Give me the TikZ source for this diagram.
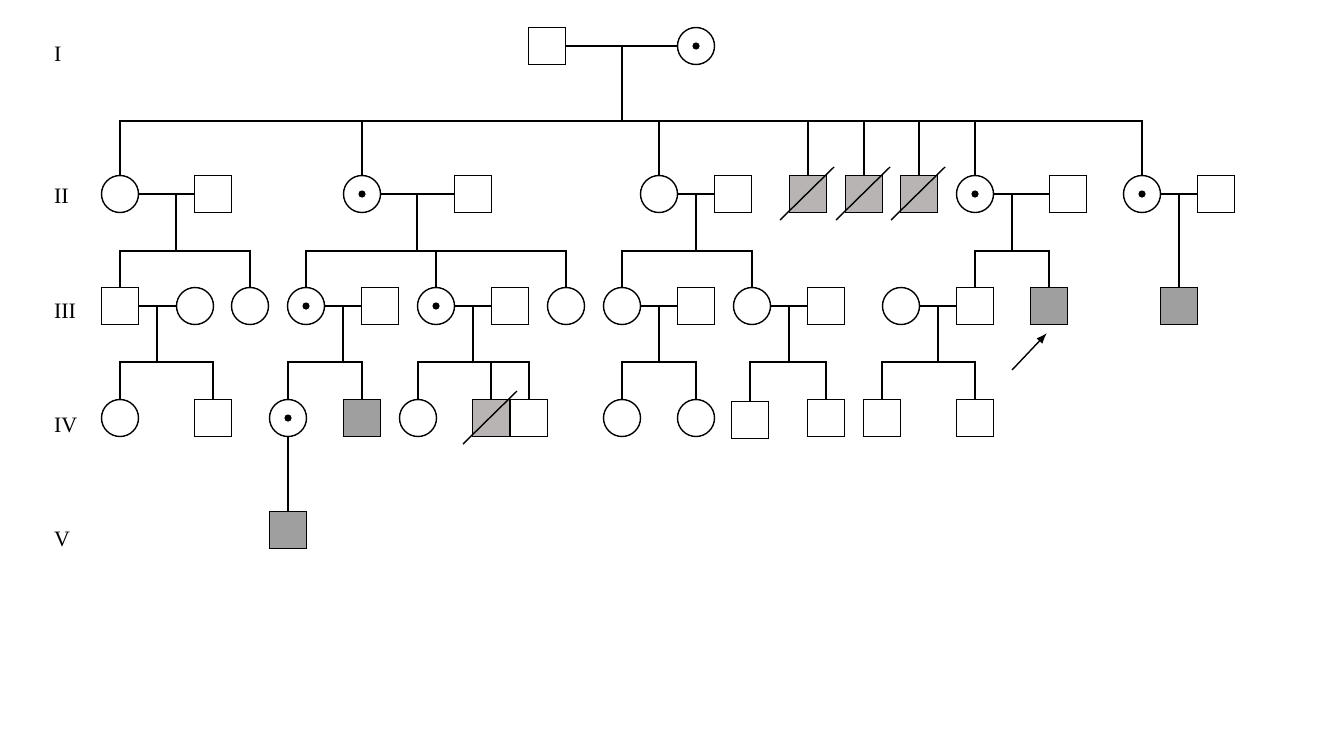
\documentclass[tikz,border=0pt]{standalone}
\usepackage{fontspec}
\setmainfont{Liberation Serif}
\usetikzlibrary{positioning,arrows.meta,calc}
\definecolor{affgray}{HTML}{9F9F9F}
\definecolor{decgray}{HTML}{B8B4B3}

\begin{document}
\begin{tikzpicture}[x=1pt,y=-1pt,line width=1.4pt,
				male/.style={draw, rectangle, minimum size=37pt, inner sep=0pt},
				female/.style={draw, circle, minimum size=37pt, inner sep=0pt},
				carrier/.style={path picture={\fill (path picture bounding box.center) circle (3.6pt);}},
				affected/.style={fill=affgray},
				deceased/.style={fill=decgray},
				gen/.style={anchor=west, font=\fontsize{22}{26}\selectfont},
				arrow/.style={-{Latex[length=11pt,width=8pt]}}
			]
			\useasboundingbox (0,0) rectangle (1319,742);

			% Generation labels
			\node[gen] (lI) at (50,54) {I};
			\node[gen] (lII) at (50,196) {II};
			\node[gen] (lIII) at (50,311) {III};
			\node[gen] (lIV) at (50,425) {IV};
			\node[gen] (lV) at (50,539) {V};

			% Generation I
			\node[male] (i1) at (547,46) {};
			\node[female, carrier] (i2) at (696,46) {};

			% Generation II
			\node[female] (ii1) at (120,194) {};
			\node[male] (ii1s) at (213,194) {};
			\node[female, carrier] (ii2) at (362,194) {};
			\node[male] (ii2s) at (473,194) {};
			\node[female] (ii3) at (659,194) {};
			\node[male] (ii3s) at (733,194) {};
			\node[male, deceased] (ii4) at (808,194) {};
			\node[male, deceased] (ii5) at (864,194) {};
			\node[male, deceased] (ii6) at (919,194) {};
			\node[female, carrier] (ii7) at (975,194) {};
			\node[male] (ii7s) at (1068,194) {};
			\node[female, carrier] (ii8) at (1142,194) {};
			\node[male] (ii8s) at (1216,194) {};

			% Generation III
			\node[male] (iii1) at (120,306) {};
			\node[female] (iii2) at (195,306) {};
			\node[female] (iii3) at (250,306) {};
			\node[female, carrier] (iii4) at (306,306) {};
			\node[male] (iii5) at (380,306) {};
			\node[female, carrier] (iii6) at (436,306) {};
			\node[male] (iii7) at (510,306) {};
			\node[female] (iii8) at (566,306) {};
			\node[female] (iii9) at (622,306) {};
			\node[male] (iii10) at (696,306) {};
			\node[female] (iii11) at (752,306) {};
			\node[male] (iii12) at (826,306) {};
			\node[female] (iii13) at (901,306) {};
			\node[male] (iii14) at (975,306) {};
			\node[male, affected] (iii15) at (1049,306) {};
			\node[male, affected] (iii16) at (1179,306) {};

			% Generation IV
			\node[female] (iv1) at (120,418) {};
			\node[male] (iv2) at (213,418) {};
			\node[female, carrier] (iv3) at (288,418) {};
			\node[male, affected] (iv4) at (362,418) {};
			\node[female] (iv5) at (418,418) {};
			\node[male, deceased] (iv6) at (491,418) {};
			\node[male] (iv7) at (529,418) {};
			\node[female] (iv8) at (622,418) {};
			\node[female] (iv9) at (696,418) {};
			\node[male] (iv10) at (750,420) {};
			\node[male] (iv11) at (826,418) {};
			\node[male] (iv12) at (882,418) {};
			\node[male] (iv13) at (975,418) {};

			% Generation V
			\node[male, affected] (v1) at (288,530) {};

			% Marriages
			\draw (i1) -- (i2);
			\draw (ii1) -- (ii1s);
			\draw (ii2) -- (ii2s);
			\draw (ii3) -- (ii3s);
			\draw (ii7) -- (ii7s);
			\draw (ii8) -- (ii8s);
			\draw (iii1) -- (iii2);
			\draw (iii4) -- (iii5);
			\draw (iii6) -- (iii7);
			\draw (iii9) -- (iii10);
			\draw (iii11) -- (iii12);
			\draw (iii13) -- (iii14);

			% Descent lines
			\coordinate (m0) at (622,46);
			\coordinate (s0) at (622,121);
			\draw (m0) -- (s0);
			\foreach \c in {ii1,ii2,ii3,ii4,ii5,ii6,ii7,ii8}
				\draw (s0) -| (\c.north);

			\coordinate (m1) at (176,194);
			\coordinate (s1) at (176,251);
			\draw (m1) -- (s1);
			\draw (iii1.north) |- (s1) -| (iii3.north);

			\coordinate (m2) at (417,194);
			\coordinate (s2) at (417,251);
			\draw (m2) -- (s2);
			\draw (iii4.north) |- (s2) -| (iii8.north);
			\draw (s2) -| (iii6.north);

			\coordinate (m3) at (696,194);
			\coordinate (s3) at (696,251);
			\draw (m3) -- (s3);
			\draw (iii9.north) |- (s3) -| (iii11.north);

			\coordinate (m4) at (1012,194);
			\coordinate (s4) at (1012,251);
			\draw (m4) -- (s4);
			\draw (iii14.north) |- (s4) -| (iii15.north);

			\coordinate (m5) at (1179,194);
			\draw (m5) -- (iii16.north);

			\coordinate (m6) at (157,306);
			\coordinate (s6) at (157,362);
			\draw (m6) -- (s6);
			\draw (iv1.north) |- (s6) -| (iv2.north);

			\coordinate (m7) at (343,306);
			\coordinate (s7) at (343,362);
			\draw (m7) -- (s7);
			\draw (iv3.north) |- (s7) -| (iv4.north);

			\coordinate (m8) at (473,306);
			\coordinate (s8) at (473,362);
			\draw (m8) -- (s8);
			\draw (iv5.north) |- (s8) -| (iv7.north);
			\draw (s8) -| (iv6.north);

			\coordinate (m9) at (659,306);
			\coordinate (s9) at (659,362);
			\draw (m9) -- (s9);
			\draw (iv8.north) |- (s9) -| (iv9.north);

			\coordinate (m10) at (789,306);
			\coordinate (s10) at (789,362);
			\draw (m10) -- (s10);
			\draw (iv10.north) |- (s10) -| (iv11.north);

			\coordinate (m11) at (938,306);
			\coordinate (s11) at (938,362);
			\draw (m11) -- (s11);
			\draw (iv12.north) |- (s11) -| (iv13.north);

			\draw (iv3) -- (v1);

			% Deceased marks
			\foreach \d in {ii4,ii5,ii6,iv6}
				\draw ($(\d)+(-28,26)$) -- ($(\d)+(26,-27)$);

			% Proband
			\coordinate (pa) at (1012,370);
			\coordinate (pb) at (1047,333);
			\draw[arrow] (pa) -- (pb);
		\end{tikzpicture}
\end{document}
